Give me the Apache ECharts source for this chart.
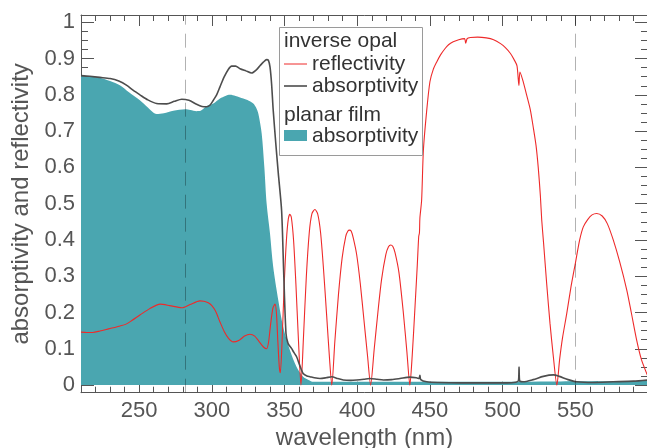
<!DOCTYPE html>
<html><head><meta charset="utf-8">
<script src="https://cdn.jsdelivr.net/npm/echarts@6/dist/echarts.min.js"></script>
<style>html,body{margin:0;padding:0;background:#fff}#c{width:647px;height:448px}</style>
</head><body><div id="c"></div>
<script>
// ---- data ----
const reflWl = [210,214,218,223,229,237,241,245,250.5,257,264.4,271,279.3,285,291.8,294.5,297.5,300,302.5,305.6,308.5,311.5,314.7,318.5,322.5,326.2,329.5,332.5,335.5,337.7,339,340.5,342,343.4,344.4,345.4,346.4,347.1,348.3,349.8,351.3,352.6,353.7,354.7,356.2,357.8,359.5,361.3,363,365,367,368.8,370.9,372.8,374.8,376.8,379,381,382.5,384.6,387.1,389.6,392.1,393.5,394.6,395.9,397.3,399.6,402.1,404.6,407.1,409.2,411.7,414.2,416.7,419.7,421.5,423,424.5,426,428.7,431.7,434.2,436.2,437.8,439.8,441.3,442.3,442.8,443.1,444.3,445.5,447.8,450,452.3,454.6,457.3,460.3,462.8,466,469.8,473.8,474.6,475.6,477.8,482.8,488.8,493.8,498.6,501.9,505.4,507.9,509.9,511.2,511.9,513.9,516.5,519,521.1,523,524.5,526,526.9,528.2,530.3,532.6,534.9,537.3,539.2,541.2,544.1,547,550,553,555.5,558.5,561.5,564.7,568.5,572,576.1,580.5,585.4,588.5,592.2,595.5,599.1,600];
const reflVal = [0.146,0.145,0.145,0.149,0.155,0.163,0.168,0.178,0.193,0.21,0.223,0.219,0.213,0.222,0.232,0.231,0.227,0.219,0.204,0.174,0.148,0.129,0.119,0.123,0.135,0.14,0.135,0.12,0.105,0.10,0.118,0.17,0.212,0.223,0.2,0.12,0.05,0.034,0.12,0.28,0.40,0.458,0.471,0.462,0.40,0.28,0.13,0.0,0.13,0.30,0.42,0.472,0.484,0.472,0.42,0.32,0.19,0.07,0.0,0.12,0.25,0.35,0.41,0.424,0.427,0.424,0.405,0.36,0.28,0.18,0.08,0.0,0.1,0.2,0.29,0.36,0.381,0.386,0.382,0.365,0.31,0.2,0.09,0.0,0.08,0.22,0.33,0.41,0.42,0.46,0.51,0.647,0.757,0.836,0.87,0.89,0.91,0.927,0.938,0.946,0.952,0.955,0.942,0.955,0.958,0.959,0.957,0.952,0.941,0.93,0.914,0.897,0.88,0.826,0.863,0.84,0.80,0.76,0.71,0.66,0.60,0.52,0.455,0.39,0.28,0.17,0.078,0.0,0.07,0.13,0.197,0.27,0.335,0.40,0.436,0.456,0.469,0.473,0.466,0.445,0.40,0.34,0.262,0.2,0.124,0.07,0.032,0.025];

const opalAbsWl = [210,216,223,230,236,241.5,246,250.5,256,262,269,274.2,279.3,284.2,289.5,293.2,296.4,298.8,301,303.3,305.6,308.3,311.3,313.6,316.3,319.4,323.4,327.4,330.4,333.1,335.4,337.7,338.9,340,341.1,342.2,343.9,345.7,348,349.5,351,352.4,354.8,356.4,358.3,360.4,362.8,365.4,367.5,370.5,374.4,378.5,382.5,386.6,390.4,395.6,399.6,404.6,408.7,413.6,418,423.7,429.4,436.2,440.7,442.5,443.1,443.7,447.8,455.8,470.8,490.8,503,509,510.9,511.3,511.7,514,521,528,535,539,545,551,562,576,590,600];
const opalAbsVal = [0.853,0.851,0.848,0.845,0.838,0.826,0.812,0.80,0.786,0.776,0.775,0.782,0.788,0.785,0.774,0.768,0.767,0.772,0.785,0.80,0.822,0.848,0.87,0.879,0.879,0.872,0.866,0.86,0.868,0.88,0.89,0.897,0.895,0.877,0.83,0.758,0.67,0.584,0.48,0.30,0.142,0.115,0.101,0.09,0.078,0.055,0.032,0.025,0.023,0.02,0.018,0.02,0.023,0.018,0.014,0.013,0.014,0.016,0.018,0.016,0.014,0.015,0.018,0.022,0.02,0.018,0.027,0.015,0.009,0.007,0.006,0.006,0.006,0.008,0.012,0.05,0.012,0.009,0.015,0.024,0.028,0.024,0.015,0.009,0.007,0.009,0.011,0.014];

const filmAbsWl = [210,217,223,230,237,243,250.5,256,262,267,273.5,281.7,285.2,289.5,292.3,296.5,301,305.6,309.3,312.5,316.3,321.6,325.4,328.5,330.4,332,334.3,336.1,337.7,340,342.2,345.7,349.1,353.7,358.3,362.8,366.5,369.8,380,420,480,540,600];
const filmAbsVal = [0.851,0.85,0.847,0.838,0.826,0.807,0.785,0.765,0.747,0.749,0.756,0.76,0.758,0.755,0.756,0.769,0.776,0.79,0.797,0.80,0.797,0.79,0.784,0.776,0.765,0.748,0.693,0.601,0.50,0.418,0.326,0.234,0.16,0.096,0.05,0.023,0.014,0.009,0.009,0.009,0.009,0.01,0.011];

const guideWl = [281.7, 550];
const xMajor = [250,300,350,400,450,500,550];
const xMinor = [220,230,240,260,270,280,290,310,320,330,340,360,370,380,390,410,420,430,440,460,470,480,490,510,520,530,540,560,570,580,590];
const yMajor = [0,0.1,0.2,0.3,0.4,0.5,0.6,0.7,0.8,0.9,1];
const yMinor = [0.025,0.05,0.075,0.125,0.15,0.175,0.225,0.25,0.275,0.325,0.35,0.375,0.425,0.45,0.475,0.525,0.55,0.575,0.625,0.65,0.675,0.725,0.75,0.775,0.825,0.85,0.875,0.925,0.95,0.975];

const zip = (a, b) => a.map((x, i) => [x, b[i]]);
const FONT = "'Liberation Sans', Arial, sans-serif";
const AX = '#555';
const TEAL = '#4aa6b0';
const RED = '#ee2a2a';
const GRAY = '#4d4d4d';

function xAx(pos, ticks, len, showLine, labels) {
  return {
    type: 'value', min: 210, max: 600, position: pos, gridIndex: 0,
    axisLine: {show: showLine, onZero: false, lineStyle: {color: AX, width: 1}},
    axisTick: {show: true, inside: true, length: len, customValues: ticks, lineStyle: {color: AX, width: 1}},
    axisLabel: labels ? {show: true, customValues: ticks, fontSize: 22, color: AX, fontFamily: FONT, margin: 7} : {show: false},
    splitLine: {show: false}
  };
}
function yAx(pos, ticks, len, showLine, labels) {
  return {
    type: 'value', min: -0.021, max: 1.02, position: pos, gridIndex: 0,
    axisLine: {show: showLine, onZero: false, lineStyle: {color: AX, width: 1}},
    axisTick: {show: true, inside: true, length: len, customValues: ticks, lineStyle: {color: AX, width: 1}},
    axisLabel: labels ? {show: true, customValues: ticks, fontSize: 22, color: AX, fontFamily: FONT, margin: 6,
      formatter: v => String(Math.round(v * 10) / 10)} : {show: false},
    splitLine: {show: false}
  };
}

const xAxes = [
  Object.assign(xAx('bottom', xMajor, 11, true, true), {name: 'wavelength (nm)', nameLocation: 'middle', nameGap: 27,
    nameTextStyle: {fontSize: 24, color: AX, fontFamily: FONT}}),
  xAx('bottom', xMinor, 6, false, false),
  xAx('top', xMajor, 11, true, false),
  xAx('top', xMinor, 6, false, false)
];
const yAxes = [
  Object.assign(yAx('left', yMajor, 13, true, true), {name: 'absorptivity and reflectivity', nameLocation: 'middle', nameGap: 46,
    nameTextStyle: {fontSize: 24, color: AX, fontFamily: FONT}}),
  yAx('left', yMinor, 7, false, false),
  yAx('right', yMajor, 13, true, false),
  yAx('right', yMinor, 7, false, false)
];

const chart = echarts.init(document.getElementById('c'), null, {renderer: 'canvas'});
const LX = 284, TX = 312, FS = 21, TC = '#333';
chart.setOption({
  animation: false,
  backgroundColor: '#fff',
  grid: {left: 81, top: 15, width: 567, height: 377.7, outerBoundsMode: 'none', containLabel: false},
  xAxis: xAxes,
  yAxis: yAxes,
  series: [
    {name: 'planar film absorptivity', type: 'line', xAxisIndex: 0, yAxisIndex: 0, z: 1,
     data: zip(filmAbsWl, filmAbsVal), smooth: 0.3, showSymbol: false,
     lineStyle: {width: 0, color: TEAL}, areaStyle: {color: TEAL, opacity: 1}},
    {name: 'guides', type: 'line', xAxisIndex: 0, yAxisIndex: 0, z: 2, data: [],
     markLine: {silent: true, symbol: ['none', 'none'], label: {show: false},
       lineStyle: {color: 'rgba(0,0,0,0.3)', type: [14, 9], width: 1},
       data: guideWl.map(v => ({xAxis: v}))}},
    {name: 'inverse opal reflectivity', type: 'line', xAxisIndex: 0, yAxisIndex: 0, z: 3,
     data: zip(reflWl, reflVal), smooth: 0.25, showSymbol: false,
     lineStyle: {width: 1.1, color: RED}},
    {name: 'inverse opal absorptivity', type: 'line', xAxisIndex: 0, yAxisIndex: 0, z: 4,
     data: zip(opalAbsWl, opalAbsVal), smooth: 0.25, showSymbol: false,
     lineStyle: {width: 1.6, color: GRAY}}
  ],
  graphic: [
    {type: 'rect', z: 100, shape: {x: 279.5, y: 27.5, width: 143, height: 128},
     style: {fill: '#fff', stroke: '#9a9a9a', lineWidth: 1}},
    {type: 'text', z: 101, x: LX, y: 41, style: {text: 'inverse opal', font: FS + 'px ' + FONT, fill: TC, verticalAlign: 'middle'}},
    {type: 'line', z: 101, shape: {x1: LX, y1: 64, x2: 307, y2: 64}, style: {stroke: RED, lineWidth: 1}},
    {type: 'text', z: 101, x: TX, y: 64, style: {text: 'reflectivity', font: FS + 'px ' + FONT, fill: TC, verticalAlign: 'middle'}},
    {type: 'line', z: 101, shape: {x1: LX, y1: 86, x2: 307, y2: 86}, style: {stroke: GRAY, lineWidth: 1.6}},
    {type: 'text', z: 101, x: TX, y: 86, style: {text: 'absorptivity', font: FS + 'px ' + FONT, fill: TC, verticalAlign: 'middle'}},
    {type: 'text', z: 101, x: LX, y: 115, style: {text: 'planar film', font: FS + 'px ' + FONT, fill: TC, verticalAlign: 'middle'}},
    {type: 'rect', z: 101, shape: {x: LX, y: 130, width: 23, height: 11}, style: {fill: TEAL}},
    {type: 'text', z: 101, x: TX, y: 136, style: {text: 'absorptivity', font: FS + 'px ' + FONT, fill: TC, verticalAlign: 'middle'}}
  ]
});
</script>
</body></html>
